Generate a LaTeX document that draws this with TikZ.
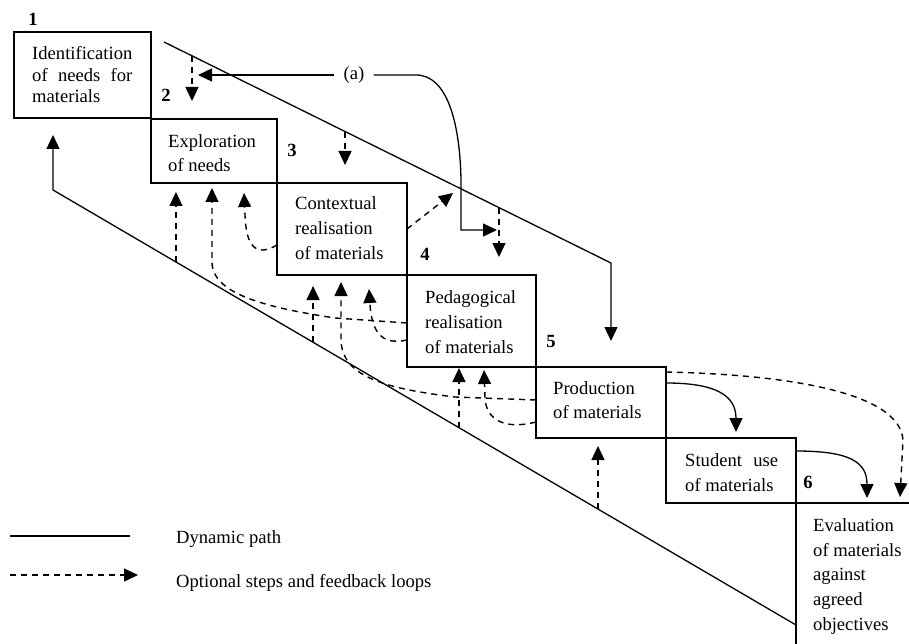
\documentclass[tikz,border=0pt]{standalone}
\usepackage{fontspec}
\setmainfont{Liberation Serif}
\usepackage{calc}
\usetikzlibrary{arrows.meta,calc}
\begin{document}
\begin{tikzpicture}[x=1pt,y=-1pt,
  box/.style={draw, line width=1.3pt, anchor=north west, inner sep=0pt, outer sep=0pt},
  txt/.style={anchor=north west, inner sep=0pt, align=left},
  num/.style={anchor=base, inner sep=0pt, font=\fontsize{18.6}{22}\selectfont\bfseries},
  solidln/.style={line width=1.3pt},
  tip/.style={-{Triangle[length=14pt,width=13pt]}},
  dsh/.style={line width=1.4pt, dash pattern=on 6pt off 5pt},
  lgtxt/.style={anchor=base west, inner sep=0pt, font=\fontsize{18.6}{22}\selectfont},
]
\path[use as bounding box, clip] (0,0) rectangle (909,644);

% boxes
\node[box, minimum width=137, minimum height=86] (b1) at (14,32) {};
\node[box, minimum width=126, minimum height=64] (b2) at (151,119) {};
\node[box, minimum width=130, minimum height=92] (b3) at (277,183) {};
\node[box, minimum width=129, minimum height=92] (b4) at (407,275) {};
\node[box, minimum width=130, minimum height=71] (b5) at (536,367) {};
\node[box, minimum width=130, minimum height=65] (b6) at (666,438) {};
\node[box, minimum width=140, minimum height=170] (b7) at (796,503) {};

% texts
\node[txt, font=\fontsize{18.6}{21.5}\selectfont] (t1) at (32,46.4)
  {Identification\\\makebox[\widthof{Identification}][s]{of needs for}\\materials};
\node[txt, font=\fontsize{18.6}{24}\selectfont] (t2) at (168,134.5) {Exploration\\of needs};
\node[txt, font=\fontsize{18.6}{25}\selectfont] (t3) at (295,196.4) {Contextual\\realisation\\of materials};
\node[txt, font=\fontsize{18.6}{25}\selectfont] (t4) at (425,290.7) {Pedagogical\\realisation\\of materials};
\node[txt, font=\fontsize{18.6}{23.5}\selectfont] (t5) at (553,381.4) {Production\\of materials};
\node[txt, font=\fontsize{18.6}{25}\selectfont] (t6) at (685,453.4) {\makebox[93pt][s]{Student use}\\of materials};
\node[txt, font=\fontsize{18.6}{24.7}\selectfont] (t7) at (813,518.4) {Evaluation\\of materials\\against\\agreed\\objectives};

% numbers
\node[num] (n1) at (33,26) {1};
\node[num] (n2) at (166,102) {2};
\node[num] (n3) at (292,157) {3};
\node[num] (n4) at (425,260) {4};
\node[num] (n5) at (551,347) {5};
\node[num] (n6) at (808,488) {6};

% upper dynamic line
\coordinate (U0) at (164,42);
\coordinate (U1) at (611,263);
\coordinate (U2) at (611,341);
\draw[solidln, tip] (U0) -- (U1) -- (U2);

% lower dynamic line
\coordinate (L1) at (796,625);
\coordinate (L0) at (53,190);
\coordinate (L2) at (53,135);
\draw[solidln, tip] (L1) -- (L0) -- (L2);

% (a)
\node[inner xsep=9pt, inner ysep=0pt, font=\fontsize{18.6}{22}\selectfont] (a) at (354,75) {(a)};
\coordinate (aT) at (198,75);
\coordinate (aT2) at (497,230);
\draw[solidln, tip] (a.west) -- (aT);
\draw[solidln, tip] (a.east) -- (416,75) .. controls (448,75) and (460,125) .. (461,180) -- (461,230) -- (aT2);

% short dashed from upper line
\coordinate (p1) at ($(U0)!0.0626!(U1)$);
\coordinate (p2) at ($(U0)!0.405!(U1)$);
\coordinate (p3) at ($(U0)!0.7494!(U1)$);
\coordinate (p1e) at (192,101);
\coordinate (p2e) at (345,165);
\coordinate (p3e) at (499,257);
\draw[dsh, tip] (p1) -- (p1 |- p1e);
\draw[dsh, tip] (p2) -- (p2 |- p2e);
\draw[dsh, tip] (p3) -- (p3 |- p3e);

% dashed from box 3 east
\coordinate (e3) at (453,193);
\draw[dsh, tip] (b3.east) -- (e3);

% points on lower line
\coordinate (q1) at ($(L0)!0.1655!(L1)$);
\coordinate (q2) at ($(L0)!0.35!(L1)$);
\coordinate (q3) at ($(L0)!0.5464!(L1)$);
\coordinate (q4) at ($(L0)!0.7335!(L1)$);

% arrows to box 2
\coordinate (A1) at (176,192);
\coordinate (A2) at (212,188);
\coordinate (A3) at (244,193);
\draw[dsh, tip] (q1) -- (q1 |- A1);
\draw[dsh, tip] (b4.west |- 0,323) -- (335,318) .. controls (270,308) and (212,295) .. (212,262) -- (A2);
\draw[dsh, tip] (b3.west |- 0,245) .. controls (255,258) and (246,245) .. (245,215) -- (A3);

% arrows to box 3
\coordinate (B1) at (313,286);
\coordinate (B2) at (341,282);
\coordinate (B3) at (369,289);
\draw[dsh, tip] (q2) -- (q2 |- B1);
\draw[dsh, tip] (b5.west |- 0,400) -- (455,397) .. controls (380,388) and (342,375) .. (341,340) -- (B2);
\draw[dsh, tip] (b4.west |- 0,340) .. controls (380,346) and (372,330) .. (370,305) -- (B3);

% arrows to box 4
\coordinate (C1) at (459,368);
\coordinate (C2) at (484,370);
\draw[dsh, tip] (q3) -- (q3 |- C1);
\draw[dsh, tip] (b5.west |- 0,422) .. controls (505,430) and (486,420) .. (485,398) -- (C2);

% arrow to box 5
\coordinate (D1) at (598,446);
\draw[dsh, tip] (q4) -- (q4 |- D1);

% solid curved arrows
\coordinate (E1) at (736,432);
\coordinate (E2) at (867,498);
\coordinate (E3) at (900,497);
\draw[solidln, tip] (b5.east |- 0,383) .. controls (715,383) and (736,395) .. (E1);
\draw[solidln, tip] (b6.east |- 0,451) .. controls (850,451) and (867,462) .. (E2);
\draw[dsh, tip] (b5.east |- 0,372) .. controls (800,375) and (900,395) .. (903,440) -- (E3);

% legend
\coordinate (g1) at (10,536);
\coordinate (g2) at (130,536);
\coordinate (g3) at (10,575);
\coordinate (g4) at (138,575);
\draw[solidln] (g1) -- (g2);
\draw[dsh, tip] (g3) -- (g4);
\node[lgtxt] (lg1) at (176,543) {Dynamic path};
\node[lgtxt] (lg2) at (176,587) {Optional steps and feedback loops};
\end{tikzpicture}
\end{document}
